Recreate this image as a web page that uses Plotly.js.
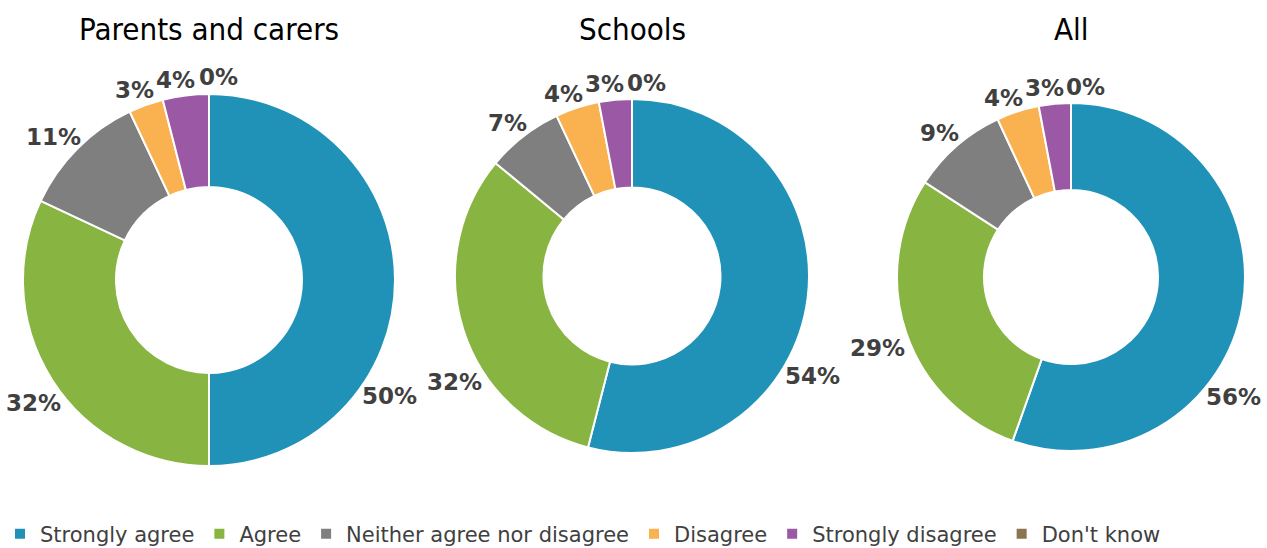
<!DOCTYPE html>
<html>
<head>
<meta charset="utf-8">
<script src="https://cdn.plot.ly/plotly-3.0.1.min.js"></script>
<style>html,body{margin:0;padding:0;background:#fff}#chart{width:1267px;height:548px}</style>
</head>
<body>
<div id="chart"></div>
<script>
const categories = ["Strongly agree", "Agree", "Neither agree nor disagree", "Disagree", "Strongly disagree", "Don't know"];
const chartTitles = ["Parents and carers", "Schools", "All"];
const parentsValues = [50, 32, 11, 3, 4, 0];
const schoolsValues = [54, 32, 7, 4, 3, 0];
const allValues = [56, 29, 9, 4, 3, 0];
const colors = ["#2192B7", "#88B441", "#7F7F7F", "#F9B24F", "#9B59A5", "#8C7352"];

const W = 1267, H = 548;
const series = [parentsValues, schoolsValues, allValues];
const domains = [
  {x: [0.01815, 0.31176], y: [0.14964, 0.82847]},
  {x: [0.35912, 0.63852], y: [0.17336, 0.81934]},
  {x: [0.70797, 0.98264], y: [0.17701, 0.81204]}
];

const labelFontSize = 23;
const labelFont = {family: 'DejaVu Sans', size: labelFontSize, color: '#404040', weight: 'bold'};

const traces = series.map((vals, i) => ({
  type: 'pie',
  labels: categories,
  values: vals,
  textinfo: 'none',
  hole: 0.5,
  sort: false,
  direction: 'clockwise',
  rotation: 0,
  domain: domains[i],
  automargin: false,
  showlegend: i === 0,
  marker: {colors: colors, line: {color: '#ffffff', width: 2}},
  hoverinfo: 'label+percent'
}));

// geometry of each pie derived from its domain (margins are zero)
function pieGeom(d) {
  const x0 = d.x[0] * W, x1 = d.x[1] * W;
  const y0 = (1 - d.y[1]) * H, y1 = (1 - d.y[0]) * H;
  return {cx: (x0 + x1) / 2, cy: (y0 + y1) / 2, r: Math.min(x1 - x0, y1 - y0) / 2};
}

const canvas = document.createElement('canvas');
const ctx = canvas.getContext('2d');
ctx.font = 'bold ' + labelFontSize + 'px "DejaVu Sans"';
const boxH = labelFontSize * 0.85;
const gap = 7;

function place(g, ang, w) {
  const t = ang * Math.PI / 180;
  const s = Math.sin(t), c = Math.cos(t);
  const px = g.cx + (g.r + gap) * s, py = g.cy - (g.r + gap) * c;
  const x = px + (w / 2) * s, y = py - (boxH / 2) * c;
  return {x: x, y: y, l: x - w / 2, r: x + w / 2, t: y - boxH / 2, b: y + boxH / 2};
}
function overlap(a, b) {
  return a.l < b.r + 2 && b.l < a.r + 2 && a.t < b.b && b.t < a.b;
}

const annotations = [];
series.forEach((vals, k) => {
  const g = pieGeom(domains[k]);
  const colL = k * W / 3 + 4, colR = (k + 1) * W / 3 - 4;
  const fits = p => p.l >= colL && p.r <= colR && p.t >= 4;
  const total = vals.reduce((a, b) => a + b, 0);
  let cum = 0;
  const labs = vals.map(v => {
    const start = cum / total * 360;
    cum += v;
    const end = cum / total * 360;
    const txt = v + '%';
    return {txt: txt, ang: (start + end) / 2, w: ctx.measureText(txt).width};
  });
  // keep each label inside its own chart column: nearest rotation that fits
  labs.forEach(L => {
    if (fits(place(g, L.ang, L.w))) return;
    for (let d = 1; d <= 180; d++) {
      if (fits(place(g, L.ang + d, L.w))) { L.ang += d; return; }
      if (fits(place(g, L.ang - d, L.w))) { L.ang -= d; return; }
    }
  });
  // spread labels that collide
  for (let it = 0; it < 400; it++) {
    let moved = false;
    for (let i = 0; i < labs.length - 1; i++) {
      const a = place(g, labs[i].ang, labs[i].w), b = place(g, labs[i + 1].ang, labs[i + 1].w);
      if (overlap(a, b)) { labs[i].ang -= 0.25; labs[i + 1].ang += 0.25; moved = true; }
    }
    if (!moved) break;
  }
  labs.forEach(L => {
    const p = place(g, L.ang, L.w);
    annotations.push({
      text: L.txt, x: p.x / W, y: 1 - p.y / H, xref: 'paper', yref: 'paper',
      xanchor: 'center', yanchor: 'middle', showarrow: false, font: labelFont
    });
  });
  annotations.push({
    text: chartTitles[k], x: g.cx / W, y: 1 - 29 / H, xref: 'paper', yref: 'paper',
    xanchor: 'center', yanchor: 'middle', showarrow: false,
    font: {family: 'DejaVu Sans Condensed', size: 31, color: '#000000'}
  });
});

const layout = {
  width: W, height: H,
  margin: {l: 0, r: 0, t: 0, b: 0, autoexpand: false},
  paper_bgcolor: '#ffffff',
  showlegend: true,
  legend: {
    orientation: 'h', x: 0, xanchor: 'left', y: -0.012, yanchor: 'bottom',
    font: {family: 'DejaVu Sans', size: 21, color: '#404040'},
    traceorder: 'normal'
  },
  annotations: annotations
};

Plotly.newPlot('chart', traces, layout, {displayModeBar: false, staticPlot: true});
</script>
</body>
</html>
